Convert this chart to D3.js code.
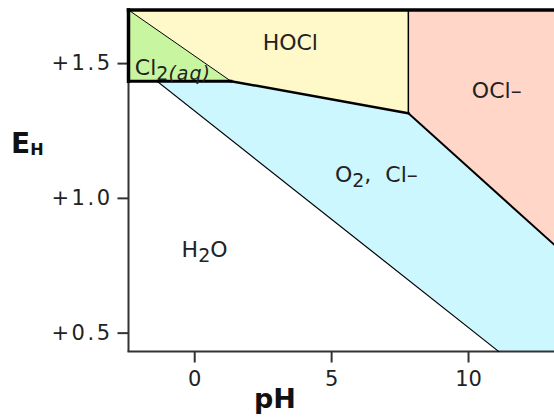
<!DOCTYPE html>
<html>
<head>
<meta charset="utf-8">
<script src="https://cdn.jsdelivr.net/npm/d3@7"></script>
<style>
  body { margin: 0; background: #fff; }
  text { font-family: "DejaVu Sans", Verdana, sans-serif; }
</style>
</head>
<body>
<div id="fig"></div>
<script>
const fig_width = 554
const fig_height = 417

// axis extents (pH, volts)
const ph_domain = [-2.4, 13.14]
const eh_domain = [0.43, 1.697]
const ph_ticks = [0, 5, 10]
const eh_ticks = [0.5, 1.0, 1.5]

// corner points of the stability regions, [pH, E]
const cl2_region = [[-2.4, 1.697], [1.34, 1.433], [-2.4, 1.433]]
const hocl_region = [[-2.4, 1.697], [7.82, 1.697], [7.82, 1.314], [1.34, 1.433]]
const ocl_region = [[7.82, 1.697], [13.14, 1.697], [13.14, 0.827], [7.82, 1.314]]
const o2_region = [[-1.36, 1.433], [1.34, 1.433], [7.82, 1.314], [13.14, 0.827], [13.14, 0.43], [11.12, 0.43]]

const regions = [
    {name: 'Cl2', pts: cl2_region, fill: '#c8f5a0'},
    {name: 'HOCl', pts: hocl_region, fill: '#fff8c8'},
    {name: 'OCl', pts: ocl_region, fill: '#ffd6c8'},
    {name: 'O2', pts: o2_region, fill: '#ccf7ff'}
]

// boundary lines [from, to, width]
const boundaries = [
    [[-2.4, 1.697], [1.34, 1.433], 1],
    [[-2.4, 1.433], [1.34, 1.433], 3],
    [[1.34, 1.433], [7.82, 1.314], 2.5],
    [[7.82, 1.697], [7.82, 1.314], 1.5],
    [[7.82, 1.314], [13.14, 0.827], 2],
    [[-1.36, 1.433], [11.12, 0.43], 1.2],
    [[-2.4, 1.697], [13.14, 1.697], 3.5],
    [[-2.4, 1.697], [-2.4, 1.433], 3.5]
]

// region labels: anchor point [pH, E]
const labels = [
    {at: [3.51, 1.548], anchor: 'middle', parts: [['HOCl', 0]]},
    {at: [10.14, 1.370], anchor: 'start', parts: [['OCl', 0], ['\u2013', 0]]},
    {at: [5.14, 1.0596], anchor: 'start', parts: [['O', 0], ['2', 1], [',  Cl\u2013', 0]]},
    {at: [-0.46, 0.781], anchor: 'start', parts: [['H', 0], ['2', 1], ['O', 0]]},
    {at: [-2.17, 1.4555], anchor: 'start', parts: [['Cl', 0], ['2', 1], ['(aq)', 2]]}
]

let x = d3.scaleLinear().domain(ph_domain).range([128.5, 554])
let y = d3.scaleLinear().domain(eh_domain).range([351.5, 10])

let svg = d3.select('#fig').append('svg')
    .attr('width', fig_width)
    .attr('height', fig_height)

svg.selectAll('polygon.region')
    .data(regions)
    .join('polygon')
    .attr('class', 'region')
    .attr('points', d => d.pts.map(p => [x(p[0]), y(p[1])].join(',')).join(' '))
    .attr('fill', d => d.fill)

// axes (drawn as plain lines, ticks from d3 axis)
svg.append('line')
    .attr('x1', x(ph_domain[0])).attr('x2', x(ph_domain[0]))
    .attr('y1', y(1.433)).attr('y2', y(eh_domain[0]))
    .attr('stroke', '#333').attr('stroke-width', 2)
svg.append('line')
    .attr('x1', x(ph_domain[0]) - 1).attr('x2', x(ph_domain[1]))
    .attr('y1', y(eh_domain[0])).attr('y2', y(eh_domain[0]))
    .attr('stroke', '#333').attr('stroke-width', 2)

let yAxis = svg.append('g')
    .attr('transform', `translate(${x(ph_domain[0])},0)`)
    .call(d3.axisLeft(y).tickValues(eh_ticks).tickSize(11).tickPadding(5)
        .tickFormat(d => '+' + d.toFixed(1)))
let xAxis = svg.append('g')
    .attr('transform', `translate(0,${y(eh_domain[0])})`)
    .call(d3.axisBottom(x).tickValues(ph_ticks).tickSize(11).tickPadding(9)
        .tickFormat(d3.format('d')))

for (let ax of [xAxis, yAxis]) {
    ax.select('.domain').remove()
    ax.selectAll('.tick line').attr('stroke', '#333').attr('stroke-width', 2)
    ax.selectAll('.tick text')
        .attr('fill', '#222')
        .style('font-size', '21px')
        .style('font-family', '"DejaVu Sans", Verdana, sans-serif')
}
yAxis.selectAll('.tick text').style('letter-spacing', '2.5px')

svg.selectAll('line.bound')
    .data(boundaries)
    .join('line')
    .attr('class', 'bound')
    .attr('x1', d => x(d[0][0])).attr('y1', d => y(d[0][1]))
    .attr('x2', d => x(d[1][0])).attr('y2', d => y(d[1][1]))
    .attr('stroke', '#000')
    .attr('stroke-width', d => d[2])
    .attr('stroke-linecap', 'square')

// region labels with subscripts
labels.forEach(l => {
    let t = svg.append('text')
        .attr('x', x(l.at[0]))
        .attr('y', y(l.at[1]))
        .attr('text-anchor', l.anchor)
        .style('font-size', '22px')
        .style('white-space', 'pre')
        .attr('fill', '#222')
    let shift = 0
    l.parts.forEach(([s, sub]) => {
        let want = sub ? 5 : 0
        let ts = t.append('tspan').text(s).attr('dy', want - shift)
        if (sub) ts.style('font-size', '19px')
        if (sub === 2) ts.style('font-style', 'italic').style('letter-spacing', '1px')
        shift = want
    })
})

// axis titles
let eh = svg.append('text')
    .attr('x', 11).attr('y', 153)
    .style('font-weight', 'bold')
    .style('font-size', '28px')
    .attr('fill', '#111')
eh.append('tspan').text('E')
eh.append('tspan').text('H').style('font-size', '16px').attr('dy', 2)

svg.append('text')
    .attr('x', 275).attr('y', 408)
    .attr('text-anchor', 'middle')
    .style('font-weight', 'bold')
    .style('font-size', '27px')
    .attr('fill', '#111')
    .text('pH')
</script>
</body>
</html>
